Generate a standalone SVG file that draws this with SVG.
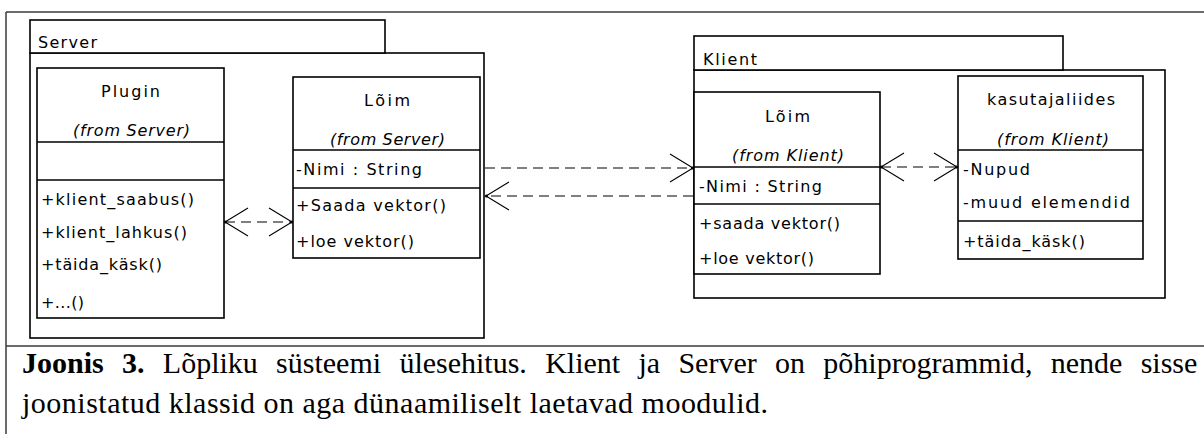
<svg xmlns="http://www.w3.org/2000/svg" width="1204" height="434" viewBox="0 0 1204 434">
  <style>
    .frame { fill: none; stroke: #3a3a3a; stroke-width: 1.5; }
    .box { fill: #ffffff; stroke: #000000; stroke-width: 1.6; }
    .sep { stroke: #000000; stroke-width: 1.6; }
    .t { font-family: "DejaVu Sans", "Liberation Sans", sans-serif; font-size: 16px; fill: #000000; }
    .c { text-anchor: middle; }
    .i { font-style: italic; }
    .dash { fill: none; stroke: #000000; stroke-width: 1.2; stroke-dasharray: 10 6; }
    .cap { font-family: "Liberation Serif", "Times New Roman", serif; font-size: 30px; fill: #000000; }
  </style>
  <defs>
    <marker id="open" viewBox="0 0 26 32" markerWidth="26" markerHeight="32" refX="24" refY="15" markerUnits="userSpaceOnUse" orient="auto-start-reverse">
      <path d="M1,1 L24,15 L1,29" fill="none" stroke="#000000" stroke-width="1.1"/>
      <circle cx="23.5" cy="15" r="1.6" fill="#000000"/>
    </marker>
  </defs>

  <rect width="1204" height="434" fill="#ffffff"/>

  <!-- outer frame -->
  <g id="frame">
    <line class="frame" x1="6" y1="12" x2="1204" y2="12"/>
    <line class="frame" x1="6" y1="12" x2="6" y2="434"/>
    <line class="frame" x1="6" y1="346" x2="1204" y2="346"/>
  </g>

  <!-- Server package -->
  <g id="pkg-server">
    <rect class="box" x="30" y="53" width="454" height="285"/>
    <rect class="box" x="30" y="20" width="355" height="33"/>
    <text class="t" x="38" y="48" textLength="59">Server</text>
  </g>

  <!-- Klient package -->
  <g id="pkg-klient">
    <rect class="box" x="694" y="70" width="471" height="228"/>
    <rect class="box" x="694" y="36" width="369" height="34"/>
    <text class="t" x="703" y="65" textLength="54">Klient</text>
  </g>

  <!-- Plugin -->
  <g id="plugin">
    <rect class="box" x="37" y="68" width="187" height="250"/>
    <line class="sep" x1="37" y1="142" x2="224" y2="142"/>
    <line class="sep" x1="37" y1="180" x2="224" y2="180"/>
    <text class="t c" x="130.5" y="97" textLength="59">Plugin</text>
    <text class="t c i" x="131.5" y="136" textLength="117">(from Server)</text>
    <text class="t" x="41" y="205" textLength="153">+klient_saabus()</text>
    <text class="t" x="41" y="238" textLength="146">+klient_lahkus()</text>
    <text class="t" x="41" y="270" textLength="121">+täida_käsk()</text>
    <text class="t" x="41" y="308" textLength="43">+...()</text>
  </g>

  <!-- Lõim (Server) -->
  <g id="loim-server">
    <rect class="box" x="293" y="77" width="187" height="181"/>
    <line class="sep" x1="293" y1="150" x2="480" y2="150"/>
    <line class="sep" x1="293" y1="188" x2="480" y2="188"/>
    <text class="t c" x="387" y="106" textLength="46">Lõim</text>
    <text class="t c i" x="387.5" y="145" textLength="115">(from Server)</text>
    <text class="t" x="296" y="175" textLength="126">-Nimi : String</text>
    <text class="t" x="296" y="211" textLength="150">+Saada vektor()</text>
    <text class="t" x="296" y="247" textLength="118">+loe vektor()</text>
  </g>

  <!-- Lõim (Klient) -->
  <g id="loim-klient">
    <rect class="box" x="694" y="92" width="186" height="182"/>
    <line class="sep" x1="694" y1="167" x2="880" y2="167"/>
    <line class="sep" x1="694" y1="204" x2="880" y2="204"/>
    <text class="t c" x="787.5" y="122" textLength="45">Lõim</text>
    <text class="t c i" x="788" y="161" textLength="112">(from Klient)</text>
    <text class="t" x="699" y="192" textLength="123">-Nimi : String</text>
    <text class="t" x="699" y="229" textLength="141">+saada vektor()</text>
    <text class="t" x="699" y="264" textLength="115">+loe vektor()</text>
  </g>

  <!-- kasutajaliides -->
  <g id="kasutajaliides">
    <rect class="box" x="958" y="76" width="185" height="183"/>
    <line class="sep" x1="958" y1="150" x2="1143" y2="150"/>
    <line class="sep" x1="958" y1="221" x2="1143" y2="221"/>
    <text class="t c" x="1051" y="105" textLength="128">kasutajaliides</text>
    <text class="t c i" x="1053" y="145" textLength="112">(from Klient)</text>
    <text class="t" x="963" y="175" textLength="67">-Nupud</text>
    <text class="t" x="963" y="208" textLength="167">-muud elemendid</text>
    <text class="t" x="963" y="247" textLength="122">+täida_käsk()</text>
  </g>

  <!-- connectors -->
  <g id="connectors">
    <line class="dash" x1="225" y1="222" x2="292" y2="222" marker-start="url(#open)" marker-end="url(#open)"/>
    <line class="dash" x1="485" y1="168" x2="693" y2="168" marker-end="url(#open)"/>
    <line class="dash" x1="693" y1="196" x2="486" y2="196" marker-end="url(#open)"/>
    <line class="dash" x1="881" y1="167" x2="957" y2="167" marker-start="url(#open)" marker-end="url(#open)"/>
  </g>

  <!-- caption -->
  <g id="caption">
    <text class="cap" x="22" y="373" word-spacing="10.8"><tspan font-weight="bold">Joonis 3.</tspan> Lõpliku süsteemi ülesehitus. Klient ja Server on põhiprogrammid, nende sisse</text>
    <text class="cap" x="22" y="413" textLength="746">joonistatud klassid on aga dünaamiliselt laetavad moodulid.</text>
  </g>
</svg>
